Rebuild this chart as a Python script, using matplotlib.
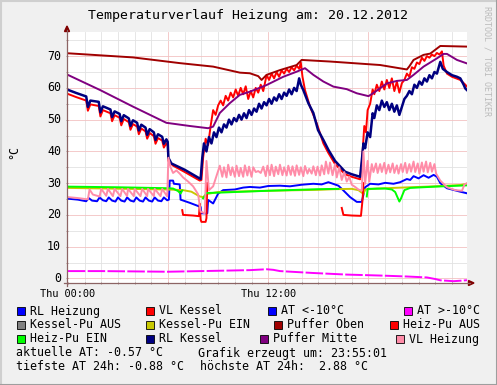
import numpy as np
import matplotlib
matplotlib.use('Agg')
import matplotlib.pyplot as plt
import matplotlib.transforms as mtransforms
from matplotlib.patches import Rectangle, Polygon
from matplotlib.lines import Line2D

W, H = 497, 385
MONO = 'DejaVu Sans Mono'
nan = float('nan')

title = 'Temperaturverlauf Heizung am: 20.12.2012'
x_tick_pos = [0, 12]
x_tick_labels = ['Thu 00:00', 'Thu 12:00']
y_ticks = [0, 10, 20, 30, 40, 50, 60, 70]

# hours since 00:00 / temperature in °C
puffer_oben_t = [0, 3.9, 6.7, 8.7, 10.3, 10.9, 11.4, 11.6, 11.9, 12.7, 13.7, 14.0, 15.7, 18.7,
                 20.3, 20.45, 20.7, 21.3, 21.7, 22.3, 23.9]
puffer_oben = [70.9, 69.6, 67.8, 66.7, 64.8, 64.6, 63.7, 62.5, 64.1, 65.6, 67.2, 68.8, 68.3, 67.2,
               65.8, 66.8, 68.8, 70.4, 70.8, 73.2, 73.0]

puffer_mitte_t = [0, 1.94, 3.9, 5.9, 7.3, 8.4, 8.7, 9.1, 9.7, 10.3, 10.9, 11.9, 12.9, 13.7, 14.2,
                  14.7, 15.3, 15.9, 16.7, 17.3, 18.0, 18.3, 19.1, 19.7, 20.3, 20.7, 21.3, 22.1,
                  22.5, 22.7, 23.3, 23.9]
puffer_mitte = [64.1, 59.3, 54.1, 49.0, 48.0, 47.3, 47.8, 52.1, 55.2, 57.8, 58.8, 60.9, 63.5, 65.1,
                66.2, 64.1, 62.0, 60.4, 59.6, 58.3, 57.4, 58.4, 61.4, 62.2, 62.5, 64.1, 66.7, 69.3,
                70.7, 70.7, 68.8, 67.7]

rl_kessel_t = [0, 0.5, 1.1, 1.2, 1.35, 1.85, 1.95, 2.1, 2.55, 2.65, 2.8, 3.1, 3.2, 3.35, 3.65, 3.75,
               3.9, 4.15, 4.25, 4.4, 4.65, 4.75, 4.9, 5.15, 5.25, 5.4, 5.65, 5.75, 5.9, 5.98,
               6.02, 6.2, 7.0, 7.95,
               8.05, 8.15, 8.3, 8.45, 8.6, 8.75, 8.9, 9.05, 9.2, 9.35, 9.5, 9.65, 9.8, 9.95, 10.1,
               10.25, 10.4, 10.55, 10.7, 10.85, 11.0, 11.15, 11.3, 11.45, 11.6, 11.75, 11.9,
               12.05, 12.2, 12.35, 12.5, 12.65, 12.8, 12.95, 13.1, 13.25, 13.4, 13.55, 13.7,
               13.85, 13.95, 14.1, 14.4, 14.7, 14.98, 15.3, 15.6, 16.0, 16.6, 17.0, 17.5,
               17.6, 17.7, 17.8, 17.95, 18.1, 18.25, 18.35, 18.5, 18.65, 18.8, 18.95, 19.1,
               19.25, 19.4, 19.55, 19.7, 19.85, 20.0, 20.15, 20.3, 20.45, 20.6, 20.75, 20.9,
               21.05, 21.2, 21.35, 21.5, 21.65, 21.8, 21.95, 22.1, 22.3, 22.45, 22.7, 23.0,
               23.3, 23.5, 23.7, 23.8, 23.9]
rl_kessel = [59.4, 58.4, 57.3, 54.0, 56.0, 55.6, 52.3, 54.2, 53.2, 50.8, 52.6, 51.8, 49.5, 51.4,
             50.4, 48.0, 49.8, 49.0, 46.6, 48.4, 47.5, 45.2, 47.0, 46.0, 43.6, 45.4, 44.6, 42.4,
             43.8, 43.0,
             38.0, 36.2, 34.2, 31.3,
             38.0, 42.5, 40.0, 44.5, 42.5, 46.0, 44.5, 47.5, 46.0, 48.5, 47.5, 50.0, 48.5, 50.5,
             49.5, 51.5, 50.0, 52.0, 50.5, 53.0, 51.5, 53.5, 52.5, 55.0, 53.5, 55.5, 54.5,
             56.5, 55.0, 57.0, 56.0, 58.0, 56.5, 58.5, 57.5, 59.5, 58.0, 60.0, 59.0,
             63.0, 61.0, 59.3, 55.2, 52.1, 46.7, 43.6, 40.5, 37.0, 33.6, 32.8, 32.0,
             37.0, 42.5, 41.0, 46.0, 44.5, 52.0, 50.5, 54.5, 53.0, 56.0, 54.0, 55.5,
             53.0, 55.0, 52.5, 54.5, 51.5, 54.0, 56.5, 57.5, 59.0, 58.0, 61.0, 60.0,
             62.0, 61.0, 63.0, 62.0, 64.0, 63.0, 65.0, 64.5, 68.2, 66.0, 65.0, 64.0,
             63.5, 63.0, 61.0, 59.8, 59.3]

vl_kessel_t = [0, 0.5, 1.1, 1.2, 1.35, 1.85, 1.95, 2.1, 2.55, 2.65, 2.8, 3.1, 3.2, 3.35, 3.65, 3.75,
               3.9, 4.15, 4.25, 4.4, 4.65, 4.75, 4.9, 5.15, 5.25, 5.4, 5.65, 5.75, 5.9, 5.98,
               6.02, 6.3, 7.0, 7.9,
               8.0, 8.1, 8.25, 8.4, 8.55, 8.7, 8.85, 9.0, 9.15, 9.3, 9.45, 9.6, 9.75, 9.9, 10.05,
               10.2, 10.35, 10.5, 10.65, 10.8, 10.95, 11.1, 11.25, 11.4, 11.55, 11.7, 11.9,
               12.05, 12.2, 12.35, 12.5, 12.65, 12.8, 12.95, 13.1, 13.25, 13.4, 13.55, 13.7,
               13.85, 13.95, 14.05, 14.2, 14.5, 14.9, 15.3, 15.6, 16.0, 16.6, 17.0, 17.5,
               17.6, 17.7, 17.75, 17.85, 17.95, 18.1, 18.25, 18.35, 18.5, 18.65, 18.8, 18.95,
               19.1, 19.25, 19.4, 19.55, 19.7, 19.85, 20.0, 20.15, 20.3, 20.45, 20.6, 20.75,
               20.9, 21.05, 21.2, 21.35, 21.5, 21.65, 21.8, 21.95, 22.1, 22.25, 22.4, 22.5,
               22.7, 23.0, 23.5, 23.8, 23.9]
vl_kessel = [58.1, 57.1, 56.0, 52.8, 54.8, 54.3, 51.0, 53.0, 52.0, 49.5, 51.4, 50.6, 48.2, 50.2,
             49.2, 46.8, 48.6, 47.8, 45.4, 47.2, 46.3, 44.0, 45.8, 44.8, 42.4, 44.2, 43.4, 41.2,
             42.6, 41.8,
             37.0, 35.5, 33.5, 30.8,
             31.0, 38.0, 44.0, 42.0, 48.0, 53.0, 51.5, 54.5, 56.0, 54.5, 57.5, 56.0, 58.5, 57.0,
             59.5, 57.5, 60.0, 58.0, 60.5, 56.5, 59.0, 57.0, 60.0, 58.5, 61.0, 59.0, 64.0,
             62.5, 64.5, 63.0, 65.0, 63.5, 65.5, 64.5, 66.0, 65.0, 66.5, 65.5, 67.0,
             66.0, 68.0, 63.5, 59.3, 54.1, 48.9, 42.5, 39.5, 36.0, 32.8, 32.0, 31.2,
             36.0, 44.0, 48.0, 46.0, 53.0, 55.0, 59.5, 58.0, 61.0, 59.0, 62.0, 59.5,
             62.5, 60.0, 63.0, 59.0, 62.0, 58.5, 61.5, 62.5, 64.5, 63.5, 66.5, 66.0,
             68.0, 67.5, 69.5, 68.5, 70.0, 69.5, 70.5, 70.0, 71.0, 70.5, 71.5, 67.0,
             64.5, 63.5, 62.5, 61.0, 60.4]

heiz_pu_aus_t = [6.85, 6.9, 7.5, 7.85, 7.9, 7.95, 8.0, 8.25, 8.3, 8.35, 8.4,
                 16.4, 16.5, 17.0, 17.55, 17.65, 17.7]
heiz_pu_aus = [21.5, 20.0, 19.8, 19.6, 23.5, 18.5, 17.8, 17.8, 19.0, 30.0, nan,
               22.2, 20.0, 19.8, 19.7, 25.0, 30.0]

rl_heizung_t = [0, 0.6, 1.1, 1.25, 1.45, 1.75, 1.9, 2.1, 2.3, 2.45, 2.65, 2.85, 3.0, 3.2, 3.4,
                3.55, 3.75, 3.95, 4.1, 4.3, 4.5, 4.65, 4.85, 5.05, 5.2, 5.4, 5.6, 5.75, 5.95,
                6.05, 6.1, 6.3, 6.35, 6.7, 6.75, 7.3, 7.95, 8.0, 8.35, 8.4, 8.7, 9.0, 9.3, 10.0,
                10.5, 10.9, 11.5, 12.0, 12.7, 13.3, 14.0, 14.7, 15.2, 15.6, 16.2, 16.5, 16.9,
                17.3, 17.6, 17.8, 18.1, 18.6, 19.0, 19.5, 19.9, 20.3, 20.5, 20.7, 21.0, 21.3,
                21.6, 21.9, 22.1, 22.3, 22.7, 23.5, 23.9]
rl_heizung = [25.1, 24.8, 24.3, 25.3, 24.5, 24.3, 25.5, 24.6, 24.3, 25.5, 24.5, 24.2, 25.5, 24.5,
              24.2, 25.5, 24.5, 24.2, 25.5, 24.5, 24.2, 25.5, 24.5, 24.2, 25.5, 24.5, 24.3, 25.5,
              24.6, 24.8, 30.8, 30.8, 29.8, 29.6, 24.8, 23.8, 22.5, 20.5, 20.5, 24.7, 23.6, 26.7,
              27.8, 28.0, 28.6, 28.8, 28.6, 29.1, 29.2, 29.0, 29.5, 29.8, 29.6, 30.3, 29.2, 27.7,
              25.6, 24.1, 24.1, 28.7, 29.8, 29.6, 30.1, 29.8, 30.3, 31.3, 31.0, 32.2, 31.5, 32.5,
              31.7, 32.6, 32.0, 30.0, 28.4, 27.3, 26.8]

vl_heizung_t = [0, 0.6, 1.2, 1.3, 1.5, 1.9, 2.0, 2.3, 2.4, 2.7, 2.8, 3.15, 3.25, 3.55, 3.6, 3.95,
                4.0, 4.35, 4.45, 4.75, 4.8, 5.15, 5.2, 5.55, 5.65, 5.95,
                6.02, 6.15, 6.3, 6.5, 6.7, 6.9, 7.2, 7.5, 7.8, 7.95, 8.2, 8.3, 8.45, 8.7,
                9.1, 9.25, 9.35, 9.5, 9.6, 9.75, 9.85, 10.0, 10.1, 10.25, 10.35, 10.5, 10.6,
                10.75, 10.85, 11.0, 11.1, 11.25, 11.4, 11.55, 11.7, 11.85, 11.95, 12.1, 12.2,
                12.35, 12.45, 12.6, 12.7, 12.85, 12.95, 13.1, 13.2, 13.35, 13.45, 13.6, 13.7,
                13.85, 13.95, 14.1, 14.2, 14.35, 14.45, 14.6, 14.7, 14.85, 14.95, 15.1, 15.2,
                15.35, 15.45, 15.6,
                15.7, 15.85, 16.0, 16.1, 16.25, 16.4, 16.55, 16.7, 16.85, 17.0, 17.2, 17.4,
                17.6, 17.7, 17.8, 17.95, 18.05, 18.2,
                18.3, 18.45, 18.55, 18.7, 18.8, 18.95, 19.05, 19.2, 19.3, 19.45, 19.55, 19.7,
                19.8, 19.95, 20.05, 20.2, 20.3, 20.45, 20.55, 20.7, 20.8, 20.95, 21.05, 21.2,
                21.3, 21.45, 21.55, 21.7, 21.8, 21.95, 22.05, 22.3, 22.7, 23.2, 23.6, 23.75, 23.9]
vl_heizung = [25.6, 25.3, 24.9, 28.0, 26.4, 25.8, 28.2, 26.0, 28.2, 25.9, 28.2, 25.9, 28.2, 25.9,
              28.2, 25.9, 28.2, 25.9, 28.2, 25.9, 28.2, 25.9, 28.2, 25.9, 28.2, 25.8,
              38.0, 35.0, 33.2, 34.0, 33.0, 31.8, 30.5, 29.0, 26.5, 21.0, 20.5, 37.0, 27.8, 29.0,
              35.5, 32.0, 35.0, 31.8, 35.8, 32.5, 35.0, 32.0, 35.5, 32.2, 34.8, 32.0, 35.6,
              32.4, 35.2, 32.0, 35.0, 33.5, 33.8, 33.2, 35.2, 32.2, 35.5, 32.5, 35.8,
              32.2, 35.2, 32.8, 35.8, 32.5, 35.0, 32.4, 35.5, 32.6, 35.3, 32.3, 35.6,
              32.6, 35.0, 32.2, 35.4, 33.0, 34.5, 33.0, 35.3, 32.5, 35.2, 32.4, 35.6,
              32.8, 36.8, 33.0,
              36.5, 32.5, 36.0, 31.8, 35.0, 31.0, 33.5, 30.5, 32.0, 29.5, 28.8, 28.0,
              27.6, 40.0, 29.8, 37.0, 30.5, 36.0,
              33.5, 36.2, 33.2, 36.0, 33.5, 36.4, 33.0, 35.8, 33.4, 36.2, 33.2, 35.6,
              33.0, 36.0, 33.5, 36.4, 33.2, 36.0, 33.6, 36.8, 33.5, 36.2, 33.0, 36.5,
              33.6, 36.8, 33.4, 36.4, 33.6, 36.0, 33.0, 30.8, 28.7, 27.8, 27.6, 29.6, 30.0]

kessel_pu_ein_t = [0, 6.0, 6.9, 7.4, 7.9, 8.1, 8.35, 9.0, 12.0, 15.0, 16.0, 17.0, 17.4, 17.6,
                   17.7, 17.8, 18.5, 20.0, 22.0, 23.5, 23.9]
kessel_pu_ein = [28.5, 28.0, 27.8, 27.3, 25.8, 25.6, 26.6, 27.2, 27.6, 27.9, 28.1, 28.2, 27.8,
                 27.0, 26.6, 28.0, 28.3, 28.6, 29.0, 29.4, 29.8]

heiz_pu_ein_t = [0, 3.0, 6.0, 6.3, 6.6, 6.75, 6.85, 6.9, 8.05, 8.1, 8.3, 9.0, 12.0, 15.0, 16.2,
                 16.25, 17.85, 17.9, 17.95, 19.0, 19.4, 19.6, 19.85, 19.95, 20.15, 20.5, 22.0,
                 23.9]
heiz_pu_ein = [28.9, 28.7, 28.4, 28.3, 27.5, 26.7, 27.7, nan, nan, 25.2, 26.9, 27.0, 27.6, 28.1,
               28.2, nan, nan, 25.8, 28.2, 28.3, 28.0, 27.2, 24.2, 25.2, 27.8, 28.5, 28.9, 29.3]

at_warm_t = [0, 2, 4, 6, 8, 10.9, 11.9, 12.3, 12.7, 14.7, 16.7, 18.7, 20.3, 21.5, 22.0, 22.3,
             23.1, 23.6, 23.9]
at_warm = [2.3, 2.3, 2.2, 2.1, 2.3, 2.6, 2.88, 2.7, 2.3, 1.7, 1.2, 0.9, 0.6, 0.3, -0.2, -0.6,
           -0.88, -0.7, -0.57]

legend_rows = [
    [('RL Heizung', '#0000FF'), ('VL Kessel', '#FF0000'), ('AT <-10°C', '#0000FF'), ('AT >-10°C', '#FF00FF')],
    [('Kessel-Pu AUS', '#808080'), ('Kessel-Pu EIN', '#C8C800'), ('Puffer Oben', '#A00000'), ('Heiz-Pu AUS', '#FF0000')],
    [('Heiz-Pu EIN', '#00FF00'), ('RL Kessel', '#000080'), ('Puffer Mitte', '#800080'), ('VL Heizung', '#FF8CA8')],
]
info_lines = [
    ('aktuelle AT: -0.57 °C', 'Grafik erzeugt um: 23:55:01'),
    ('tiefste AT 24h: -0.88 °C', 'höchste AT 24h:  2.88 °C'),
]


def fx(px):
    return px / W


def fy(py):
    return 1 - py / H


def draw_frame(fig):
    # rrdtool style bevel around the image
    fig.add_artist(Line2D([0, 1], [fy(0.5), fy(0.5)], color='#CFCFCF', lw=1.5))
    fig.add_artist(Line2D([fx(0.5), fx(0.5)], [0, 1], color='#CFCFCF', lw=1.5))
    fig.add_artist(Line2D([0, 1], [fy(384.5), fy(384.5)], color='#9E9E9E', lw=1.5))
    fig.add_artist(Line2D([fx(496.5), fx(496.5)], [0, 1], color='#9E9E9E', lw=1.5))


def draw_axes_arrows(fig):
    axis_c = '#8C6464'
    arrow_c = '#800000'
    fig.add_artist(Line2D([fx(67), fx(67)], [fy(286), fy(30)], color=axis_c, lw=0.9))
    fig.add_artist(Line2D([fx(64), fx(470)], [fy(283), fy(283)], color=axis_c, lw=0.9))
    fig.add_artist(Polygon([(fx(64.5), fy(31.5)), (fx(69.5), fy(31.5)), (fx(67), fy(26))],
                           closed=True, transform=fig.transFigure, color=arrow_c))
    fig.add_artist(Polygon([(fx(468.5), fy(280.5)), (fx(468.5), fy(285.5)), (fx(474), fy(283))],
                           closed=True, transform=fig.transFigure, color=arrow_c))


def graph():
    fig = plt.figure(figsize=(W / 100, H / 100), dpi=100, facecolor='#F0F0F0')
    ax = fig.add_axes([fx(67), fy(283), 400 / W, 251 / H])
    ax.set_facecolor('white')
    for s in ax.spines.values():
        s.set_visible(False)
    ax.set_xlim(-0.05, 23.9)
    ax.set_ylim(-1.45, 77.6)

    for h in range(1, 24):
        ax.axvline(h, color='#F2C2C2' if h % 6 == 0 else '#E2E2E2', lw=0.6, zorder=0)
    for v in range(0, 80, 5):
        ax.axhline(v, color='#F2C2C2' if v % 10 == 0 else '#E2E2E2', lw=0.6, zorder=0)

    ax.set_xticks(range(0, 24))
    ax.set_yticks(range(0, 80, 5))
    ax.tick_params(axis='both', length=2, width=0.6, color='#A08080', direction='inout',
                   labelbottom=False, labelleft=False)

    lw = 1.4
    ax.plot(rl_heizung_t, rl_heizung, color='#0000FF', lw=lw, zorder=2)
    ax.plot(vl_kessel_t, vl_kessel, color='#FF0000', lw=lw, zorder=3)
    ax.plot(at_warm_t, at_warm, color='#FF00FF', lw=lw, ls=(0, (9, 1.2)), zorder=4)
    ax.plot(kessel_pu_ein_t, kessel_pu_ein, color='#C8C800', lw=lw, zorder=5)
    ax.plot(puffer_oben_t, puffer_oben, color='#A00000', lw=lw, zorder=6)
    ax.plot(heiz_pu_aus_t, heiz_pu_aus, color='#FF0000', lw=lw, zorder=7)
    ax.plot(heiz_pu_ein_t, heiz_pu_ein, color='#00FF00', lw=lw, zorder=8)
    ax.plot(rl_kessel_t, rl_kessel, color='#000080', lw=1.8, zorder=9)
    ax.plot(puffer_mitte_t, puffer_mitte, color='#800080', lw=lw, zorder=10)
    ax.plot(vl_heizung_t, vl_heizung, color='#FF8CA8', lw=lw, zorder=11)

    # tick labels placed in pixel rows, positions from the data scale
    xt = mtransforms.blended_transform_factory(ax.transData, fig.transFigure)
    for x, lab in zip(x_tick_pos, x_tick_labels):
        fig.text(x, fy(294), lab, transform=xt, ha='center', va='center',
                 family=MONO, fontsize=7.4)
    yt = mtransforms.blended_transform_factory(fig.transFigure, ax.transData)
    for y in y_ticks:
        fig.text(fx(61), y, str(y), transform=yt, ha='right', va='center',
                 family=MONO, fontsize=8.4)

    fig.text(0.5, fy(16), title, ha='center', va='center', family=MONO, fontsize=9.5)
    fig.text(fx(14), fy(152), '°C', rotation=90, ha='center', va='center',
             family=MONO, fontsize=8.4)
    fig.text(fx(487), fy(6), 'RRDTOOL / TOBI OETIKER', rotation=270, ha='center', va='top',
             family=MONO, fontsize=6, color='#BBBBBB')

    square_x = [[17, 146, 268, 404], [17, 146, 274, 390], [17, 146, 260, 396]]
    row_y = [311, 325, 339]
    for r, row in enumerate(legend_rows):
        for c, (name, col) in enumerate(row):
            x0 = square_x[r][c]
            fig.add_artist(Rectangle((fx(x0), fy(row_y[r] + 4)), 8 / W, 8 / H,
                                     transform=fig.transFigure, facecolor=col,
                                     edgecolor='black', lw=0.6))
            fig.text(fx(x0 + 13), fy(row_y[r]), name, ha='left', va='center',
                     family=MONO, fontsize=8.4)

    for (left, right), py, rx in zip(info_lines, [353, 367], [198, 200]):
        fig.text(fx(16), fy(py), left, ha='left', va='center', family=MONO, fontsize=8.4)
        fig.text(fx(rx), fy(py), right, ha='left', va='center', family=MONO, fontsize=8.4)

    draw_axes_arrows(fig)
    draw_frame(fig)
    fig.savefig('out.png', dpi=100, facecolor=fig.get_facecolor())


def main():
    graph()


if __name__ == '__main__':
    main()
